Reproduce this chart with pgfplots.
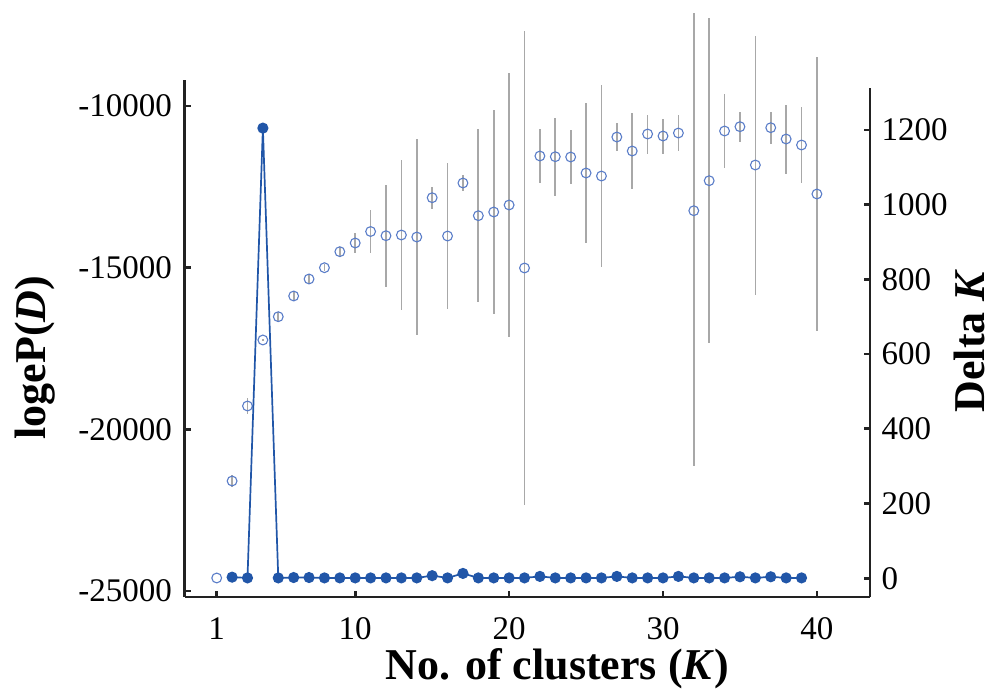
\documentclass[border=0pt]{standalone}
\usepackage{pgfplots}
\pgfplotsset{compat=1.18}
\usepackage{pgfplotstable}
\usepackage{fontspec}
\setmainfont{Liberation Serif}
\definecolor{axc}{HTML}{222222}
\definecolor{circ}{HTML}{5A7DC8}
\definecolor{dk}{HTML}{2156A8}
\definecolor{eb}{HTML}{A8A8A8}

\pgfplotstableread{
K m ep em
1 -24594 0 0
2 -21595 190 190
3 -19276 260 260
4 -17235 40 40
5 -16515 155 155
6 -15875 110 110
7 -15349 110 110
8 -15000 110 110
9 -14505 155 155
10 -14236 310 310
11 -13881 665 665
12 -14011 1577 1577
13 -13989 2308 2308
14 -14051 3030 3030
15 -12836 340 340
16 -14020 2257 2257
17 -12381 247 247
18 -13392 2680 2680
19 -13278 3140 3140
20 -13061 4080 4080
21 -15009 7330 7330
22 -11546 820 820
23 -11568 1207 1207
24 -11577 835 835
25 -12072 2150 2150
26 -12165 2800 2800
27 -10959 433 433
28 -11392 1160 1160
29 -10866 603 603
30 -10928 541 541
31 -10835 572 572
32 -13238 6113 7894
33 -12310 5025 5025
34 -10773 1130 1130
35 -10640 465 465
36 -11825 4004 4004
37 -10671 495 495
38 -11021 1067 1067
39 -11206 1160 1160
40 -12721 4236 4236
}\loge

\pgfplotstableread{
K d
2 3
3 1
4 1205
5 1
6 2
7 2
8 1
9 1
10 1
11 1
12 1
13 1
14 1
15 7
16 1
17 13
18 1
19 1
20 1
21 1
22 5
23 1
24 1
25 1
26 1
27 5
28 1
29 1
30 1
31 5
32 1
33 1
34 1
35 4
36 1
37 4
38 1
39 1
}\deltak

\begin{document}
\begin{tikzpicture}
\useasboundingbox (-92.35pt,-49pt) rectangle (405.15pt,298.5pt);
\begin{axis}[
  at={(0pt,0pt)}, anchor=south west,
  scale only axis, width=342.65pt, height=258.5pt,
  xmin=-1.08, xmax=43.45, ymin=-25182, ymax=-9196,
  scaled y ticks=false, scaled x ticks=false,
  axis x line*=bottom, axis y line*=left,
  axis line style={axc, line width=1.35pt, -},
  tick align=inside, major tick length=3pt,
  tick style={axc, line width=1.35pt},
  xtick={1,10,20,30,40}, xticklabels={1,10,20,30,40},
  ytick={-25000,-20000,-15000,-10000},
  yticklabels={-25000,-20000,-15000,-10000},
  tick label style={font=\fontsize{16.5}{18}\selectfont},
  yticklabel style={inner sep=0pt, anchor=east, xshift=-6.2pt},
  xticklabel style={inner sep=0pt, anchor=north, yshift=-10pt},
  xlabel={\textbf{No. of clusters (\textit{K})}},
  ylabel={\textbf{logeP(\textit{D})}},
  every axis x label/.style={at={(axis description cs:0.544,-0.1605)}, anchor=base, inner sep=0pt, font=\fontsize{22}{26}\selectfont},
  every axis y label/.style={at={(axis description cs:-0.189,0.463)}, anchor=south, rotate=90, inner sep=0pt, font=\fontsize{22}{26}\selectfont},
  clip=false,
]
\addplot[only marks, mark=o, mark size=2.45pt, mark options={draw=circ, line width=0.55pt},
  error bars/.cd, y dir=both, y explicit, error mark=none,
  error bar style={eb, line width=0.85pt}]
  table[x=K, y=m, y error plus=ep, y error minus=em] \loge;
\end{axis}
\begin{axis}[
  at={(0pt,0pt)}, anchor=south west,
  scale only axis, width=342.65pt, height=254.5pt,
  xmin=-1.08, xmax=43.45, ymin=-50.1, ymax=1312.4,
  scaled y ticks=false,
  hide x axis,
  axis y line*=right,
  axis line style={axc, line width=1.35pt, -},
  tick align=inside, major tick length=3pt,
  tick style={axc, line width=1.35pt},
  ytick={0,200,400,600,800,1000,1200},
  yticklabels={0,200,400,600,800,1000,1200},
  tick label style={font=\fontsize{16.5}{18}\selectfont},
  yticklabel style={inner sep=0pt, anchor=west, xshift=5.6pt},
  ylabel={\textbf{Delta \textit{K}}},
  every axis y label/.style={at={(axis description cs:1.168,0.503)}, anchor=south, rotate=90, inner sep=0pt, font=\fontsize{22}{26}\selectfont},
  clip=false,
]
\addplot[dk, line width=0.85pt, mark=*, mark size=2.35pt, mark options={fill=dk, draw=dk}]
  table[x=K, y=d] \deltak;
\end{axis}
\end{tikzpicture}
\end{document}
